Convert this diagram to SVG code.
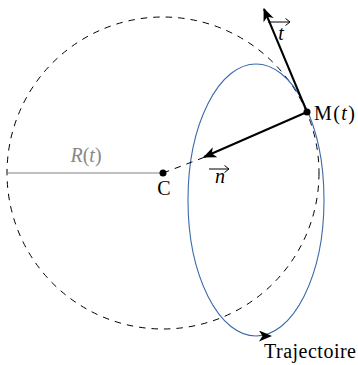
<svg xmlns="http://www.w3.org/2000/svg" width="358" height="365" viewBox="0 0 358 365">
<style>
text{font-family:"Liberation Serif","DejaVu Serif",serif;font-size:20px;fill:#000}
.it{font-style:italic}
.dash{fill:none;stroke:#000;stroke-width:1;stroke-dasharray:6.5 6}
.vec{fill:none;stroke:#000;stroke-width:2}
.ov{fill:none;stroke:#000;stroke-width:1}
</style>
<defs>
<marker id="stealth" markerUnits="userSpaceOnUse" markerWidth="14" markerHeight="12" refX="12" refY="5.5" orient="auto" viewBox="0 0 14 12">
<path d="M0,0 L13,5.5 L0,11 L3.5,5.5 Z" fill="#000"/>
</marker>
</defs>
<rect width="358" height="365" fill="#fff"/>
<g id="osculating-circle">
<circle cx="163" cy="173" r="156" class="dash"/>
</g>
<g id="trajectory">
<ellipse cx="256" cy="200" rx="68" ry="136" fill="none" stroke="#3b6aa8" stroke-width="1.1"/>
<path d="M257,336 L271,336" fill="none" stroke="none" marker-end="url(#stealth)"/>
<text x="264" y="358" textLength="92">Trajectoire</text>
</g>
<g id="connectors">
<line id="radius" x1="8" y1="173" x2="163" y2="173" stroke="#808080" stroke-width="1"/>
<line id="c-to-n" x1="163" y1="173" x2="205" y2="157" class="dash"/>
<line id="tangent" x1="307" y1="112" x2="264" y2="9" class="vec" marker-end="url(#stealth)"/>
<line id="normal" x1="307" y1="112" x2="204" y2="157" class="vec" marker-end="url(#stealth)"/>
</g>
<g id="center-C">
<circle cx="163" cy="173" r="3.5" fill="#000"/>
<text x="164" y="195" text-anchor="middle">C</text>
</g>
<g id="point-M">
<circle cx="307" cy="112" r="3.5" fill="#000"/>
<text x="314" y="120" textLength="41">M(<tspan class="it">t</tspan>)</text>
</g>
<g id="label-R">
<text x="86" y="162" text-anchor="middle" style="fill:#888"><tspan class="it">R</tspan>(<tspan class="it">t</tspan>)</text>
</g>
<g id="label-t">
<text x="281" y="40" text-anchor="middle" class="it">t</text>
<path d="M268,22 H290 M285.5,18.5 L290,22 L285.5,25.5" class="ov"/>
</g>
<g id="label-n">
<text x="220" y="183" text-anchor="middle" class="it">n</text>
<path d="M209,169 H229 M224.5,165.5 L229,169 L224.5,172.5" class="ov"/>
</g>
</svg>
